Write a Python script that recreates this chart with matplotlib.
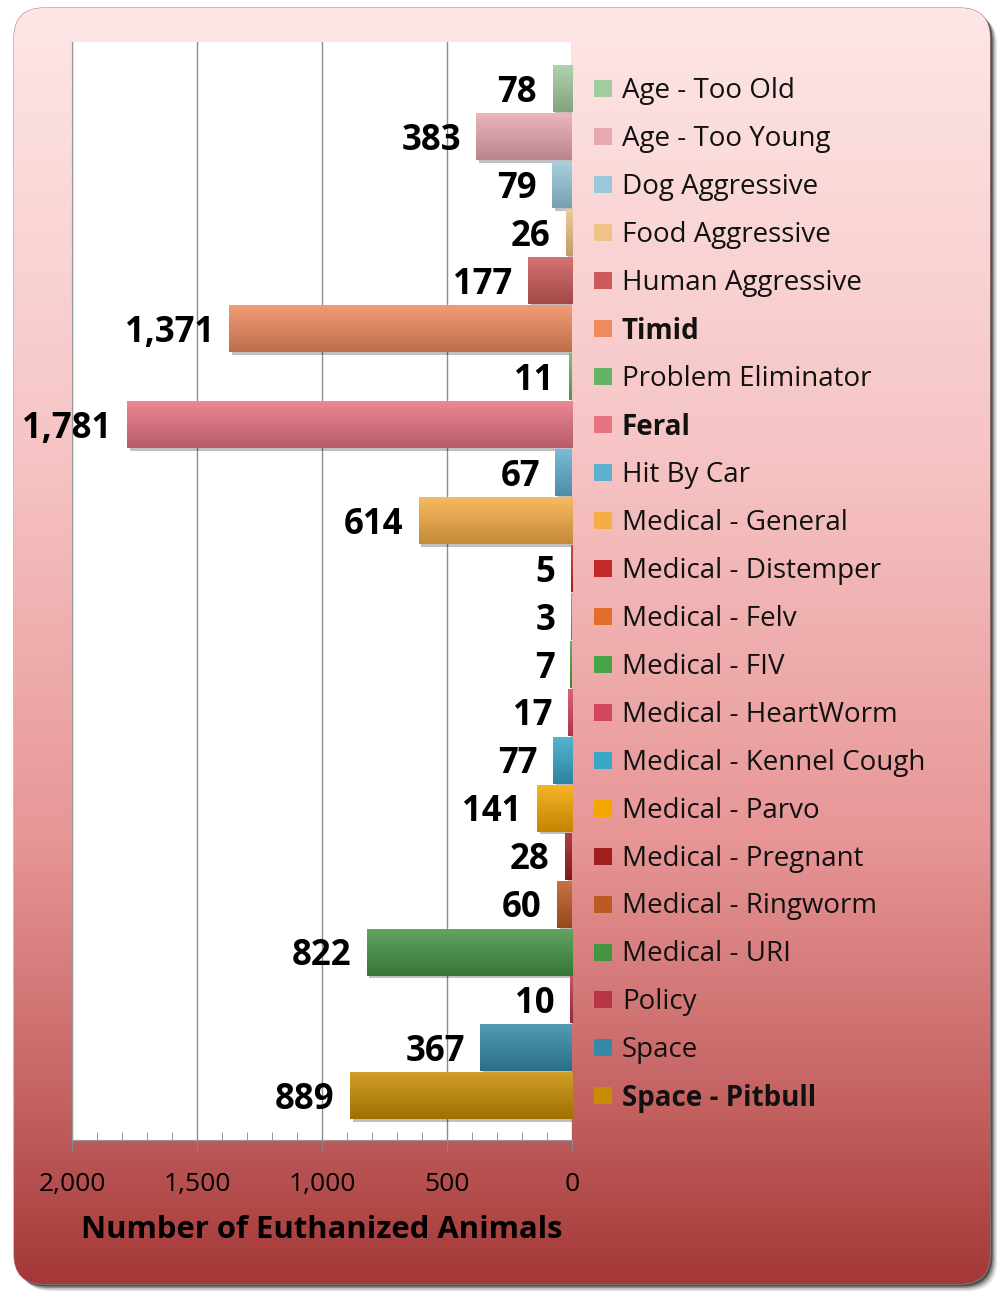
import numpy as np
import matplotlib
matplotlib.use("Agg")
import matplotlib.pyplot as plt
from matplotlib.patches import FancyBboxPatch
from matplotlib.colors import to_rgb
from matplotlib.ticker import MultipleLocator, FuncFormatter
import matplotlib.transforms as mtransforms
import matplotlib.patheffects as pe

plt.rcParams['font.family'] = ['Open Sans', 'DejaVu Sans']

reasons = ["Age - Too Old", "Age - Too Young", "Dog Aggressive", "Food Aggressive",
           "Human Aggressive", "Timid", "Problem Eliminator", "Feral", "Hit By Car",
           "Medical - General", "Medical - Distemper", "Medical - Felv", "Medical - FIV",
           "Medical - HeartWorm", "Medical - Kennel Cough", "Medical - Parvo",
           "Medical - Pregnant", "Medical - Ringworm", "Medical - URI", "Policy",
           "Space", "Space - Pitbull"]
counts = [78, 383, 79, 26, 177, 1371, 11, 1781, 67, 614, 5, 3, 7, 17, 77, 141,
          28, 60, 822, 10, 367, 889]
bold_reasons = ["Timid", "Feral", "Space - Pitbull"]
colors = ["#a2cc9e", "#e8a8b0", "#98c8da", "#f0c288", "#cc5a5a", "#ee8a5e",
          "#64b466", "#e67282", "#60b0d0", "#f6ad46", "#c22a2a", "#e26e2c",
          "#46a446", "#d4465c", "#38a6c6", "#f4a600", "#a01e1e", "#bc5a24",
          "#449444", "#b63648", "#348aa6", "#c88c00"]
xticks = [0, 500, 1000, 1500, 2000]

W, H = 1004, 1292
fig = plt.figure(figsize=(W / 100, H / 100), dpi=100)

# rounded gradient background
bg = fig.add_axes([0, 0, 1, 1], zorder=-5)
bg.set_xlim(0, W)
bg.set_ylim(H, 0)
bg.axis("off")
for k, a in enumerate([0.12, 0.18, 0.3, 0.55]):
    off = 7 - k * 1.5
    sh = FancyBboxPatch((14 + off, 8 + off), 976, 1276,
                        boxstyle="round,pad=0,rounding_size=30",
                        fc="#202020", ec="none", alpha=a)
    bg.add_patch(sh)
box = FancyBboxPatch((14, 8), 976, 1276, boxstyle="round,pad=0,rounding_size=30",
                     fc="none", ec="#b08080", lw=0.8)
bg.add_patch(box)
stops = [0.0, 0.35, 0.65, 0.85, 1.0]
stop_cols = np.array([[254, 230, 230], [246, 196, 196], [232, 150, 150],
                      [198, 100, 100], [164, 56, 56]]) / 255.0
t = np.linspace(0, 1, 400)
grad = np.stack([np.interp(t, stops, stop_cols[:, c]) for c in range(3)], axis=1)
im = bg.imshow(grad[:, None, :], extent=(14, 990, 1284, 8), aspect="auto",
               origin="upper", zorder=1)
im.set_clip_path(box)

# plot area
ax = fig.add_axes([72 / W, 1 - 1140 / H, 500 / W, 1098 / H])
ax.set_facecolor("white")
y = np.arange(len(reasons))
bars = ax.barh(y, counts, height=0.98, color=colors, zorder=3)
for b, c in zip(bars, colors):
    b.set_path_effects([pe.SimplePatchShadow(offset=(2, -2), shadow_rgbFace="#000000",
                                             alpha=0.25), pe.Normal()])
    base = np.array(to_rgb(c))
    top = base + (1 - base) * 0.15
    bot = base * 0.8
    g = np.linspace(0, 1, 50)[:, None, None]
    arr = top[None, None, :] * (1 - g) + bot[None, None, :] * g
    x0, yb = b.get_x(), b.get_y()
    bi = ax.imshow(arr, extent=(x0, x0 + b.get_width(), yb + b.get_height(), yb),
                   aspect="auto", origin="upper", zorder=4)
    bi.set_clip_path(b)

for yi, v in zip(y, counts):
    ax.annotate(f"{v:,}", (v, yi), xytext=(-11, -3), textcoords="offset points",
                ha="right", va="center", fontsize=25, fontweight="bold", zorder=5)

ax.set_xlim(2000, 0)
ax.set_ylim(len(reasons) - 0.5 + 0.42, -0.5 - 0.48)
ax.set_xticks(xticks)
ax.xaxis.set_minor_locator(MultipleLocator(100))
ax.xaxis.set_major_formatter(FuncFormatter(lambda v, p: f"{int(v):,}"))
ax.tick_params(axis="x", which="major", direction="out", length=8, color="#888888",
               labelsize=19, pad=15)
ax.tick_params(axis="x", which="minor", direction="in", length=6, color="#888888")
ax.set_yticks([])
ax.grid(axis="x", which="major", color="#8c8c8c", lw=1.0, zorder=1)
for s in ["top", "right"]:
    ax.spines[s].set_visible(False)
for s in ["left", "bottom"]:
    ax.spines[s].set_color("#999999")
ax.set_xlabel("Number of Euthanized Animals", fontsize=22.3, fontweight="bold",
              labelpad=13)

# category labels with colour keys on the right
trans = mtransforms.blended_transform_factory(ax.transAxes, ax.transData)
for yi, name, c in zip(y, reasons, colors):
    ax.scatter([1.062], [yi], marker="s", s=150, color=c, transform=trans,
               clip_on=False, zorder=5, edgecolors="none")
    ax.text(1.1, yi + 0.05, name, transform=trans, va="center", ha="left",
            fontsize=20, fontweight="bold" if name in bold_reasons else "normal",
            color="#111111")

fig.savefig("out.png", dpi=100)
